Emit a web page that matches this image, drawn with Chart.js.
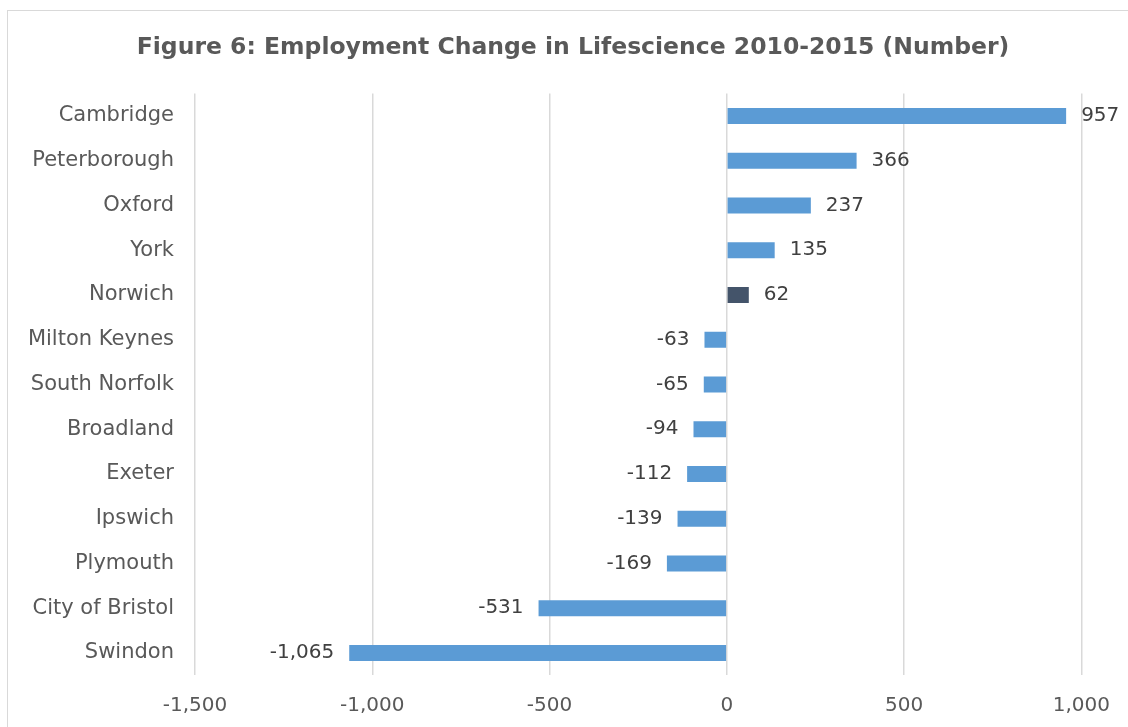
<!DOCTYPE html>
<html>
<head>
<meta charset="utf-8">
<script src="https://cdn.jsdelivr.net/npm/chart.js@4.4.1/dist/chart.umd.min.js"></script>
<style>
  html, body { margin: 0; padding: 0; background: #fff; overflow: hidden; }
  #frame { position: absolute; left: 7px; top: 10px; width: 1300px; height: 900px; border: 1px solid #d9d9d9; }
  #wrap { position: absolute; left: 0; top: 0; width: 1128px; height: 727px; }
</style>
</head>
<body>
<div id="frame"></div>
<div id="wrap"><canvas id="lifescience_Chart"></canvas></div>
<script>
// Employment change by area, 2010-2015
const areas = ['Cambridge', 'Peterborough', 'Oxford', 'York', 'Norwich', 'Milton Keynes', 'South Norfolk',
               'Broadland', 'Exeter', 'Ipswich', 'Plymouth', 'City of Bristol', 'Swindon']
const change = [957, 366, 237, 135, 62, -63, -65, -94, -112, -139, -169, -531, -1065]
const x_ticks = [-1500, -1000, -500, 0, 500, 1000]
const title_text = 'Figure 6: Employment Change in Lifescience 2010-2015 (Number)'

const font_family = '"DejaVu Sans", sans-serif'
const bar_colors = areas.map(a => a === 'Norwich' ? '#44546a' : '#5b9bd5')

// Title across the frame, not just over the plot area
const frame_title = {
    id: 'frame_title',
    afterDraw(chart) {
        const ctx = chart.ctx
        ctx.save()
        ctx.font = 'bold 23.5px ' + font_family
        ctx.fillStyle = '#595959'
        ctx.textAlign = 'center'
        ctx.textBaseline = 'middle'
        ctx.fillText(title_text, 573, 48)
        ctx.restore()
    }
}

// Draws the number next to the end of every bar
const value_labels = {
    id: 'value_labels',
    afterDatasetsDraw(chart) {
        const ctx = chart.ctx
        const meta = chart.getDatasetMeta(0)
        ctx.save()
        ctx.font = '20px ' + font_family
        ctx.fillStyle = '#404040'
        ctx.textBaseline = 'middle'
        meta.data.forEach((bar, i) => {
            const v = change[i]
            const text = v.toLocaleString('en-GB')
            if (v >= 0) {
                ctx.textAlign = 'left'
                ctx.fillText(text, bar.x + 15, bar.y)
            } else {
                ctx.textAlign = 'right'
                ctx.fillText(text, bar.x - 15, bar.y)
            }
        })
        ctx.restore()
    }
}

const ctx = document.getElementById('lifescience_Chart').getContext('2d')
const chart = new Chart(ctx, {
    type: 'bar',
    data: {
        labels: areas,
        datasets: [{
            data: change,
            backgroundColor: bar_colors,
            barPercentage: 0.72,
            categoryPercentage: 0.5
        }]
    },
    options: {
        indexAxis: 'y',
        responsive: true,
        maintainAspectRatio: false,
        animation: false,
        layout: { padding: { left: 0, right: 45, top: 93.6, bottom: 0 } },
        plugins: {
            legend: { display: false },
            tooltip: { enabled: false },
            title: { display: false }
        },
        scales: {
            x: {
                min: -1500,
                max: 1000,
                afterBuildTicks: scale => { scale.ticks = x_ticks.map(v => ({ value: v })) },
                grid: { color: '#d9d9d9', lineWidth: 1.5, drawTicks: false },
                border: { display: false },
                ticks: {
                    color: '#595959',
                    padding: 18,
                    font: { family: font_family, size: 20 },
                    callback: v => v.toLocaleString('en-GB')
                },
                afterFit: scale => { scale.height = 51.6 }
            },
            y: {
                grid: { display: false, drawTicks: false },
                border: { display: false },
                ticks: {
                    color: '#595959',
                    padding: 21,
                    font: { family: font_family, size: 21 }
                },
                afterFit: scale => { scale.width = 195 }
            }
        }
    },
    plugins: [value_labels, frame_title]
})
</script>
</body>
</html>
